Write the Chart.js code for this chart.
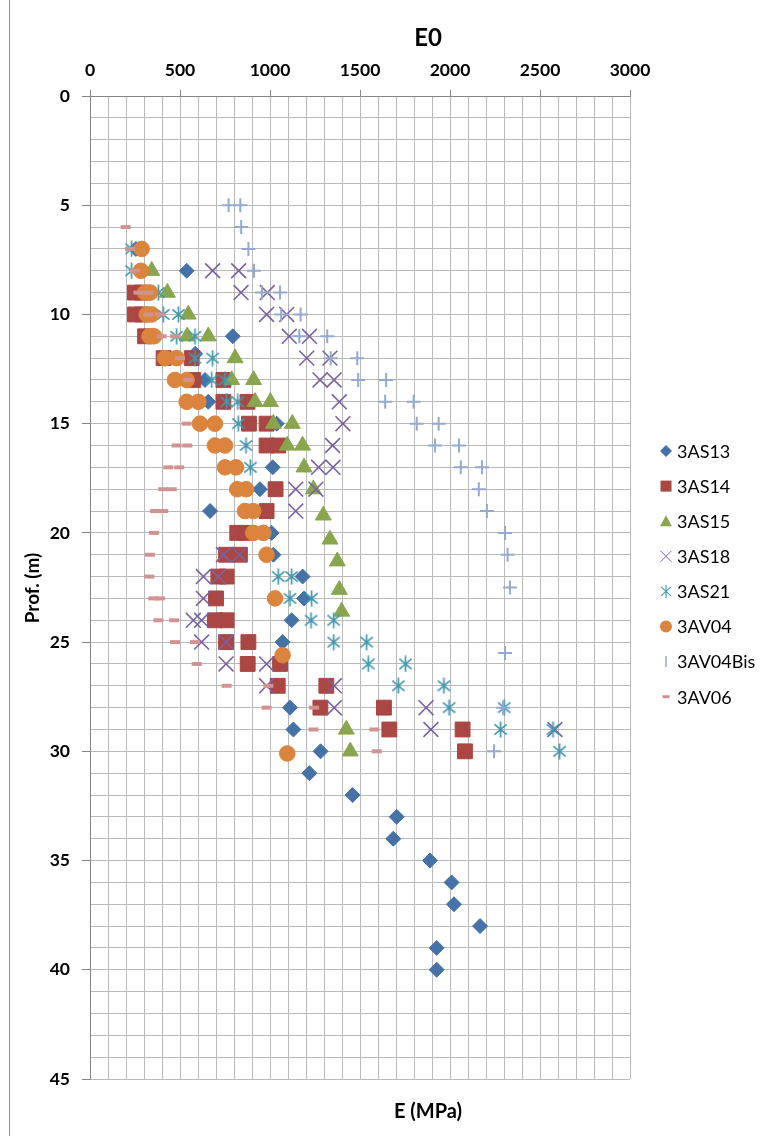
<!DOCTYPE html>
<html>
<head>
<meta charset="utf-8">
<script src="https://cdn.jsdelivr.net/npm/chart.js@4.4.1/dist/chart.umd.min.js"></script>
<style>
  html, body { margin: 0; padding: 0; background: #ffffff; }
  canvas { display: block; }
</style>
</head>
<body>
<canvas id="chart" width="761" height="1136" style="width:761px;height:1136px"></canvas>
<script>
// Modulus E0 (MPa) against depth (m), one series per borehole: [E, depth]
const seriesNames = ['3AS13', '3AS14', '3AS15', '3AS18', '3AS21', '3AV04', '3AV04Bis', '3AV06'];

const AS13 = [[255,7],[537,8],[793,11],[585,11.8],[639,13],[657,14],[1037,15],[1015,17],[944,18],[667,19],[1009,20],[1019,21],[1181,22],[1189,23],[1120,24],[1070,25],[1111,28],[1130,29],[1281,30],[1219,31],[1459,32],[1704,33],[1685,34],[1889,35],[2009,36],[2022,37],[2167,38],[1926,39],[1926,40]];
const AS14 = [[250,9],[290,9],[250,10],[290,10],[306,11],[409,12],[565,12],[574,13],[741,13],[741,14],[875,14],[883,15],[981,15],[981,16],[1046,16],[1031,18],[981,19],[818,20],[870,20],[756,21],[833,21],[713,22],[759,22],[700,23],[694,24],[759,24],[756,25],[880,25],[876,26],[1056,26],[1043,27],[1313,27],[1280,28],[1633,28],[1663,29],[2070,29],[2083,30]];
const AS15 = [[343,8],[430,9],[546,10],[540,11],[657,11],[806,12],[787,13],[909,13],[917,14],[1002,14],[1019,15],[1124,15],[1096,16],[1181,16],[1189,17],[1241,18],[1296,19.2],[1333,20.3],[1374,21.3],[1385,22.6],[1398,23.6],[1424,29],[1446,30]];
const AS18 = [[681,8],[826,8],[839,9],[985,9],[981,10],[1093,10],[1107,11],[1219,11],[1204,12],[1333,12],[1278,13],[1356,13],[1385,14],[1405,15],[1348,16],[1270,17],[1350,17],[1143,18],[1255,18],[1143,19],[741,21],[830,21],[630,22],[713,22],[630,23],[574,24],[620,24],[620,25],[756,25],[756,26],[981,26],[981,27],[1357,27],[1357,28],[1867,28],[1894,29],[2583,29]];
const AS21 = [[231,7],[231,8],[380,9],[407,10],[491,10],[481,11],[583,11],[583,12],[681,12],[676,13],[750,13],[759,14],[821,14],[824,15],[867,16],[891,17],[1046,22],[1120,22],[1111,23],[1231,23],[1228,24],[1354,24],[1354,25],[1537,25],[1546,26],[1753,26],[1713,27],[1966,27],[1995,28],[2301,28],[2281,29],[2572,29],[2609,30]];
const AV04 = [[287,7],[283,8],[306,9],[335,9],[315,10],[343,10],[330,11],[356,11],[417,12],[481,12],[472,13],[537,13],[537,14],[602,14],[611,15],[694,15],[694,16],[750,16],[750,17],[811,17],[818,18],[867,18],[861,19],[907,19],[907,20],[963,20],[981,21],[1028,23],[1070,25.6],[1096,30.1]];
const AV04Bis = [[770,5],[835,5],[840,6],[880,7],[911,8],[955,9],[1056,9],[1062,10],[1170,10],[1163,11],[1318,11],[1337,12],[1485,12],[1490,13],[1645,13],[1640,14],[1798,14],[1815,15],[1937,15],[1917,16],[2050,16],[2060,17],[2178,17],[2160,18],[2205,19],[2306,20],[2320,21],[2333,22.5],[2306,25.5],[2295,28],[2245,30]];
const AV06 = [[198,6],[222,7],[250,8],[269,9],[324,9],[324,10],[389,10],[398,11],[472,11],[500,12],[546,13],[537,15],[481,16],[541,16],[435,17],[496,17],[407,18],[454,18],[361,19],[407,19],[356,20],[333,21],[330,22],[352,23],[389,23],[380,24],[467,24],[472,25],[583,25],[593,26],[759,27],[991,27],[981,28],[1245,28],[1242,29],[1580,29],[1593,30]];

// Axis tick labels
const eTickLabels = [0, 500, 1000, 1500, 2000, 2500, 3000];
const depthTickLabels = [0, 5, 10, 15, 20, 25, 30, 35, 40, 45];

const FONT = 'Lato, "Open Sans", "Liberation Sans", sans-serif';
const GRID = '#b9b9b9';
const AXIS = '#868686';

// Asterisk marker: an X with a vertical bar
function makeAsterisk(size, color, lw) {
  const c = document.createElement('canvas');
  c.width = size; c.height = size;
  const g = c.getContext('2d');
  g.strokeStyle = color; g.lineWidth = lw;
  const m = size / 2, a = size * 0.36, v = size * 0.47;
  g.beginPath();
  g.moveTo(m, m - v); g.lineTo(m, m + v);
  g.moveTo(m - a, m - a * 0.85); g.lineTo(m + a, m + a * 0.85);
  g.moveTo(m + a, m - a * 0.85); g.lineTo(m - a, m + a * 0.85);
  g.stroke();
  return c;
}
const asteriskBig = makeAsterisk(17, '#4198AF', 1.7);

const styles = [
  { pointStyle: 'rectRot', radius: 7.5, color: '#4572A7', bw: 1 },
  { pointStyle: 'rect', radius: 10.5, color: '#AA4643', bw: 1 },
  { pointStyle: 'triangle', radius: 9.2, color: '#89A54E', bw: 1 },
  { pointStyle: 'crossRot', radius: 10.5, color: '#7a62a0', bw: 1.6 },
  { pointStyle: asteriskBig, radius: 8, color: '#4198AF', bw: 1 },
  { pointStyle: 'circle', radius: 7.8, color: '#DB843D', bw: 1 },
  { pointStyle: 'cross', radius: 7, color: '#93A9CF', bw: 2 },
  { pointStyle: 'line', radius: 5, color: '#D19392', bw: 4 }
];
const seriesData = [AS13, AS14, AS15, AS18, AS21, AV04, AV04Bis, AV06];

const datasets = seriesData.map((pts, i) => ({
  label: seriesNames[i],
  data: pts.map(p => ({ x: p[0], y: p[1] })),
  pointStyle: styles[i].pointStyle,
  pointRadius: styles[i].radius,
  pointHoverRadius: styles[i].radius,
  pointBackgroundColor: styles[i].color,
  pointBorderColor: styles[i].color,
  pointBorderWidth: styles[i].bw,
  showLine: false,
  order: seriesNames.length - i,
  clip: false
}));

// Small legend glyphs
function legendGlyph(g, i, x, y) {
  const col = styles[i].color;
  g.save();
  g.fillStyle = col; g.strokeStyle = col;
  g.beginPath();
  switch (i) {
    case 0: g.moveTo(x - 6, y); g.lineTo(x, y - 6); g.lineTo(x + 6, y); g.lineTo(x, y + 6); g.closePath(); g.fill(); break;
    case 1: g.fillRect(x - 5.5, y - 5.5, 11, 11); break;
    case 2: g.moveTo(x, y - 6); g.lineTo(x + 6, y + 5); g.lineTo(x - 6, y + 5); g.closePath(); g.fill(); break;
    case 3: g.lineWidth = 1; g.moveTo(x - 5.5, y - 5.5); g.lineTo(x + 5.5, y + 5.5); g.moveTo(x + 5.5, y - 5.5); g.lineTo(x - 5.5, y + 5.5); g.stroke(); break;
    case 4: g.lineWidth = 1.1; g.moveTo(x, y - 6.5); g.lineTo(x, y + 6.5); g.moveTo(x - 5, y - 4.5); g.lineTo(x + 5, y + 4.5); g.moveTo(x + 5, y - 4.5); g.lineTo(x - 5, y + 4.5); g.stroke(); break;
    case 5: g.arc(x, y, 6, 0, Math.PI * 2); g.fill(); break;
    case 6: g.lineWidth = 1.5; g.moveTo(x, y - 5.5); g.lineTo(x, y + 5.5); g.stroke(); break;
    case 7: g.fillRect(x - 3.5, y - 1.5, 7, 3); break;
  }
  g.restore();
}

const decorations = {
  id: 'decorations',
  afterDraw(chart) {
    const g = chart.ctx;
    g.save();
    // chart frame edge
    g.strokeStyle = '#8f8f8f'; g.lineWidth = 1;
    g.beginPath(); g.moveTo(9.5, 0); g.lineTo(9.5, 1136); g.stroke();
    g.fillStyle = '#000';
    // title
    g.font = 'bold 24px ' + FONT;
    g.textAlign = 'center'; g.textBaseline = 'middle';
    g.fillText('E0', 428, 38);
    // axis titles
    g.font = 'bold 20px ' + FONT;
    g.fillText('E (MPa)', 428, 1112);
    g.save();
    g.font = 'bold 19px ' + FONT;
    g.translate(33, 588); g.rotate(-Math.PI / 2);
    g.fillText('Prof. (m)', 0, 0);
    g.restore();
    // legend
    g.font = '18px ' + FONT;
    g.textAlign = 'left';
    seriesNames.forEach((name, i) => {
      const y = 451 + i * 35.1;
      legendGlyph(g, i, 666, y);
      g.fillStyle = '#000';
      g.fillText(name, 677, y + 1);
    });
    g.restore();
  }
};

function build() {
  new Chart(document.getElementById('chart'), {
    type: 'scatter',
    data: { datasets },
    options: {
      responsive: false,
      animation: false,
      events: [],
      layout: { padding: { left: 0, top: 0, right: 131, bottom: 57 } },
      plugins: { legend: { display: false }, tooltip: { enabled: false }, title: { display: false } },
      scales: {
        x: {
          type: 'linear', position: 'top', min: 0, max: 3000,
          afterFit: s => { s.height = 96; },
          ticks: {
            stepSize: 100, autoSkip: false, maxRotation: 0, padding: 9,
            color: '#000', font: { family: FONT, size: 17.5, weight: 'bold' },
            callback: v => eTickLabels.includes(v) ? String(v) : ''
          },
          grid: {
            color: GRID, lineWidth: 1, tickLength: 6,
            tickColor: c => (c.tick && eTickLabels.includes(c.tick.value)) ? AXIS : 'rgba(0,0,0,0)'
          },
          border: { color: AXIS, width: 1 }
        },
        y: {
          type: 'linear', reverse: true, min: 0, max: 45,
          afterFit: s => { s.width = 90; },
          ticks: {
            stepSize: 1, autoSkip: false, padding: 12,
            color: '#000', font: { family: FONT, size: 17.5, weight: 'bold' },
            callback: v => depthTickLabels.includes(v) ? String(v) : ''
          },
          grid: {
            color: GRID, lineWidth: 1, tickLength: 8,
            tickColor: c => (c.tick && depthTickLabels.includes(c.tick.value)) ? AXIS : 'rgba(0,0,0,0)'
          },
          border: { color: AXIS, width: 1 }
        }
      }
    },
    plugins: [decorations]
  });
}

const fontsReady = document.fonts && document.fonts.load
  ? Promise.all([document.fonts.load('bold 17px Lato'), document.fonts.load('17px Lato')]).catch(() => {})
  : Promise.resolve();
fontsReady.then(build, build);
</script>
</body>
</html>
